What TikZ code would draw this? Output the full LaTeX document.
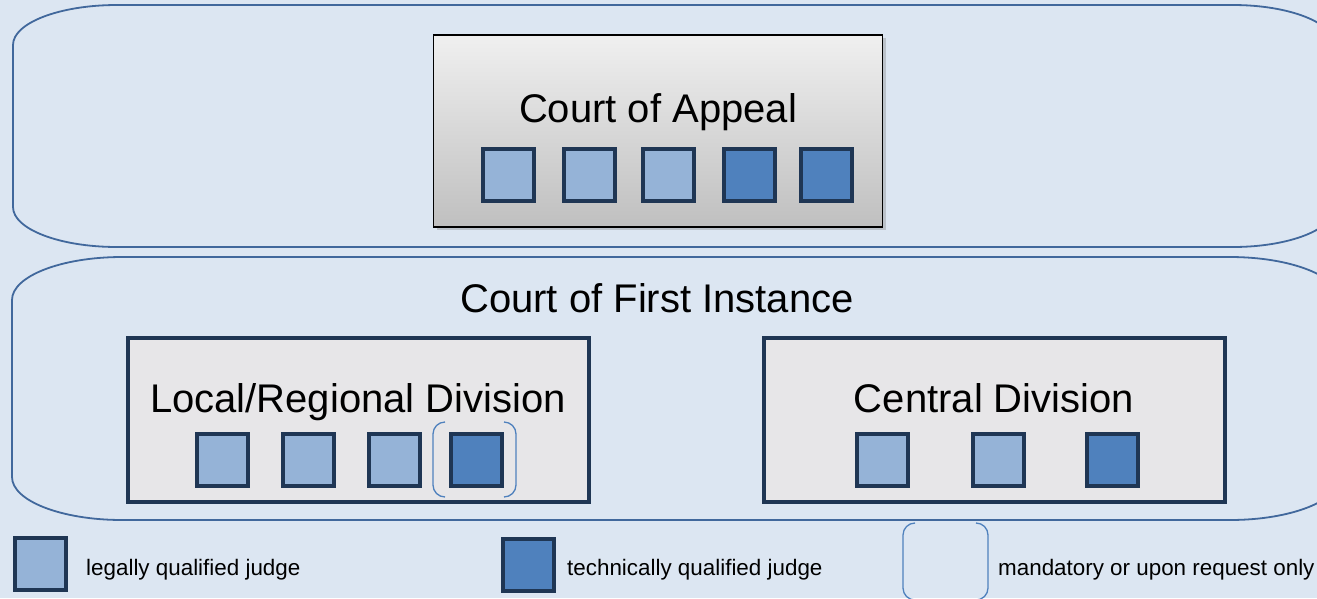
\documentclass[tikz,border=0pt]{standalone}
\usepackage{fontspec}
\setmainfont{Liberation Sans}
\usetikzlibrary{shadows}
\definecolor{backblue}{HTML}{DCE6F2}
\definecolor{ovalblue}{HTML}{41689C}
\definecolor{navy}{HTML}{1F3654}
\definecolor{legalblue}{HTML}{95B3D7}
\definecolor{techblue}{HTML}{4F81BD}
\definecolor{divgray}{HTML}{E7E6E8}
\tikzset{
  judge/.style={draw=navy, line width=4pt, minimum width=51pt, minimum height=52pt, inner sep=0pt},
  legal/.style={judge, fill=legalblue},
  tech/.style={judge, fill=techblue},
  courtline/.style={draw=ovalblue, line width=1.8pt},
  optional/.style={draw=techblue, line width=1.3pt, rounded corners=12pt},
  division/.style={draw=navy, fill=divgray, line width=4pt, minimum width=461pt, minimum height=164pt},
  bigtext/.style={font=\fontsize{40}{48}\selectfont, anchor=base},
  legendtext/.style={font=\fontsize{22.4}{27}\selectfont, anchor=base west, inner sep=0pt},
}
\begin{document}
\begin{tikzpicture}[x=1pt,y=-1pt]
\fill[backblue] (0,0) rectangle (1317,598);
\useasboundingbox (0,0) rectangle (1317,598);
\clip (0,0) rectangle (1317,598);
% Court of Appeal frame
\draw[courtline] (117,5) -- (1233,5)
  arc[start angle=90, end angle=0, x radius=102pt, y radius=40pt] -- (1335,207)
  arc[start angle=0, end angle=-90, x radius=102pt, y radius=40pt] -- (117,247)
  arc[start angle=270, end angle=180, x radius=104pt, y radius=40pt] -- (13,45)
  arc[start angle=180, end angle=90, x radius=104pt, y radius=40pt] -- cycle;
% Court of First Instance frame
\draw[courtline] (122,257) -- (1230,257)
  arc[start angle=90, end angle=0, x radius=110pt, y radius=43pt] -- (1340,477)
  arc[start angle=0, end angle=-90, x radius=110pt, y radius=43pt] -- (122,520)
  arc[start angle=270, end angle=180, x radius=110pt, y radius=43pt] -- (12,300)
  arc[start angle=180, end angle=90, x radius=110pt, y radius=43pt] -- cycle;
\node[draw=black, line width=1.5pt, top color=gray!12, bottom color=gray!50,
  drop shadow={shadow xshift=3pt, shadow yshift=-3pt, opacity=0.35},
  minimum width=449pt, minimum height=192pt] (appeal) at (658,131) {};
\node[bigtext] (appealtitle) at (658,122) {Court of Appeal};
\foreach \x/\kind [count=\i] in {508/legal,589/legal,668/legal,749/tech,826/tech}
  \node[\kind] (a\i) at (\x,175) {};
\node[bigtext] (firsttitle) at (657,312) {Court of First Instance};
\node[division] (local) at (358,420) {};
\node[division] (central) at (994,420) {};
\node[bigtext] (localtitle) at (358,412) {Local/Regional Division};
\node[bigtext] (centraltitle) at (994,412) {Central Division};
\foreach \x/\kind [count=\i] in {222/legal,308/legal,394/legal,476/tech}
  \node[\kind] (l\i) at (\x,460) {};
\foreach \x/\kind [count=\i] in {882/legal,998/legal,1112/tech}
  \node[\kind] (c\i) at (\x,460) {};
\draw[optional] (445,422) -- (433,422) -- (433,497) -- (445,497);
\draw[optional] (504,422) -- (516,422) -- (516,497) -- (504,497);
% legend
\node[legal] (keylegal) at (40,564) {};
\node[legendtext] (keylegaltext) at (86,575) {legally qualified judge};
\node[tech] (keytech) at (528,565) {};
\node[legendtext] (keytechtext) at (567,575) {technically qualified judge};
\draw[optional] (915,523) -- (903,523) -- (903,600) -- (915,600);
\draw[optional] (976,523) -- (988,523) -- (988,600) -- (976,600);
\node[legendtext] (keyoptionaltext) at (998,575) {mandatory or upon request only};
\end{tikzpicture}
\end{document}
